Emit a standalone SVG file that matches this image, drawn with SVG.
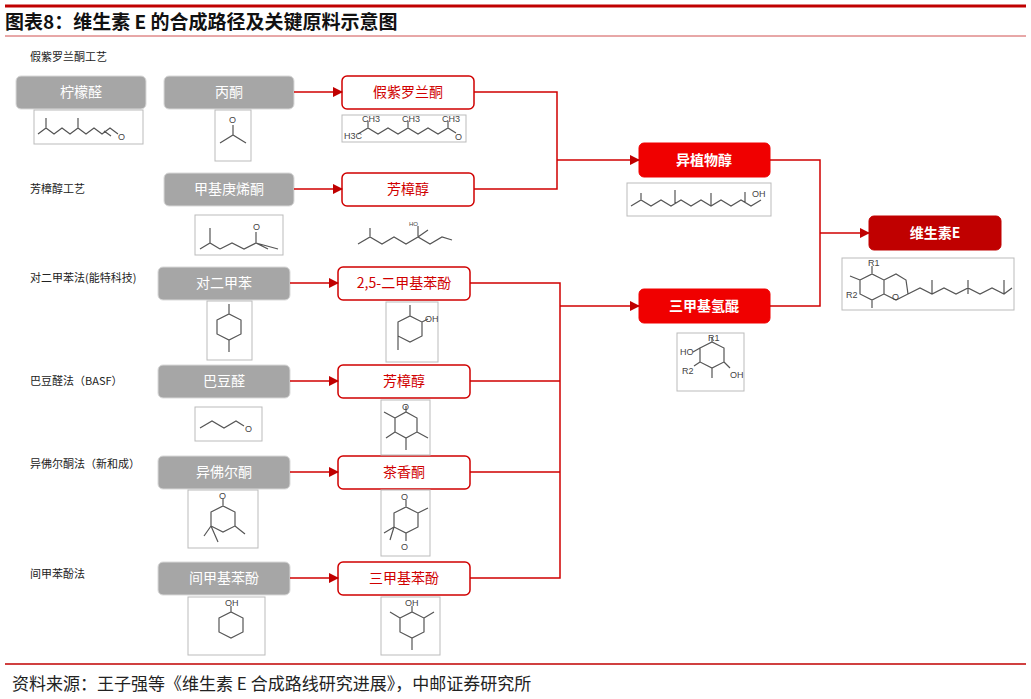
<svg xmlns="http://www.w3.org/2000/svg" width="1031" height="699" viewBox="0 0 1031 699">
<defs>
<marker id="ar" viewBox="0 0 10 10" refX="9" refY="5" markerWidth="7" markerHeight="7" orient="auto"><path d="M0,0 L10,5 L0,10 z" fill="#c00000"/></marker>
<style>
text{font-family:"Noto Sans CJK SC","Liberation Sans",sans-serif}
.g rect{fill:#a6a6a6;stroke:#d9d9d9;stroke-width:1}
.g text{fill:#fff;font-size:14px;text-anchor:middle}
.o rect{fill:#fff;stroke:#d00000;stroke-width:1.5}
.o text{fill:#d00000;font-size:14px;text-anchor:middle}
.f rect{fill:#f00000;stroke:#f00000}
.f text{fill:#fff;font-size:14px;font-weight:bold;text-anchor:middle}
.lab{font-size:11px;fill:#222}
.c path{fill:none;stroke:#d00000;stroke-width:1.5}
.m rect{fill:#fff;stroke:#bbb;stroke-width:1}
.m path{fill:none;stroke:#555;stroke-width:1.2}
.m text{font-size:9px;fill:#444;font-family:"Liberation Sans",sans-serif}
</style>
</defs>
<rect width="1031" height="699" fill="#fff"/>
<line x1="5" y1="6" x2="1026" y2="6" stroke="#c00000" stroke-width="3"/>
<text x="5" y="29" font-size="19" font-weight="bold" fill="#111">图表8：维生素 E 的合成路径及关键原料示意图</text>
<line x1="5" y1="36" x2="1026" y2="36" stroke="#d05050" stroke-width="1"/>

<text class="lab" x="30" y="61">假紫罗兰酮工艺</text>
<text class="lab" x="30" y="193">芳樟醇工艺</text>
<text class="lab" x="30" y="282">对二甲苯法(能特科技)</text>
<text class="lab" x="30" y="385">巴豆醛法（BASF）</text>
<text class="lab" x="30" y="468">异佛尔酮法（新和成）</text>
<text class="lab" x="30" y="578">间甲苯酚法</text>

<g id="n-citral" class="g"><rect x="16" y="76" width="130" height="33" rx="5"/><text x="81" y="97">柠檬醛</text></g>
<g id="n-acetone" class="g"><rect x="164" y="76" width="130" height="33" rx="5"/><text x="229" y="97">丙酮</text></g>
<g id="n-mho" class="g"><rect x="164" y="173" width="130" height="33" rx="5"/><text x="229" y="194">甲基庚烯酮</text></g>
<g id="n-px" class="g"><rect x="158" y="267" width="132" height="33" rx="5"/><text x="224" y="288">对二甲苯</text></g>
<g id="n-crot" class="g"><rect x="158" y="365" width="132" height="33" rx="5"/><text x="224" y="386">巴豆醛</text></g>
<g id="n-iso" class="g"><rect x="158" y="456" width="132" height="33" rx="5"/><text x="224" y="477">异佛尔酮</text></g>
<g id="n-mc" class="g"><rect x="158" y="562" width="132" height="33" rx="5"/><text x="224" y="583">间甲基苯酚</text></g>

<g id="n-pi" class="o"><rect x="342" y="76" width="132" height="33" rx="5"/><text x="408" y="97">假紫罗兰酮</text></g>
<g id="n-lin" class="o"><rect x="342" y="173" width="132" height="33" rx="5"/><text x="408" y="194">芳樟醇</text></g>
<g id="n-dmp" class="o"><rect x="338" y="267" width="132" height="33" rx="5"/><text x="404" y="288">2,5-二甲基苯酚</text></g>
<g id="n-lin2" class="o"><rect x="338" y="365" width="132" height="33" rx="5"/><text x="404" y="386">芳樟醇</text></g>
<g id="n-kip" class="o"><rect x="338" y="456" width="132" height="33" rx="5"/><text x="404" y="477">茶香酮</text></g>
<g id="n-tmp" class="o"><rect x="338" y="562" width="132" height="33" rx="5"/><text x="404" y="583">三甲基苯酚</text></g>

<g id="n-ip" class="f"><rect x="639" y="143" width="131" height="34" rx="5"/><text x="704" y="165">异植物醇</text></g>
<g id="n-tmhq" class="f"><rect x="639" y="289" width="131" height="34" rx="5"/><text x="704" y="311">三甲基氢醌</text></g>
<g id="n-ve" class="f"><rect x="869" y="216" width="132" height="34" rx="5" style="fill:#c00000;stroke:#c00000"/><text x="935" y="238">维生素E</text></g>

<g id="connectors" class="c">
<path d="M294,92 H342" marker-end="url(#ar)"/>
<path d="M294,189 H342" marker-end="url(#ar)"/>
<path d="M290,283 H338" marker-end="url(#ar)"/>
<path d="M290,381 H338" marker-end="url(#ar)"/>
<path d="M290,472 H338" marker-end="url(#ar)"/>
<path d="M290,578 H338" marker-end="url(#ar)"/>
<path d="M474,92 H557 V189 H474"/>
<path d="M557,160 H639" marker-end="url(#ar)"/>
<path d="M470,283 H560 V578 H470 M470,381 H560 M470,472 H560"/>
<path d="M560,306 H639" marker-end="url(#ar)"/>
<path d="M770,160 H820 V306 H770"/>
<path d="M820,233 H869" marker-end="url(#ar)"/>
</g>

<g class="m">
<rect x="34" y="110" width="109" height="34"/>
<path d="M38,134 L46,128 L54,134 L62,128 L70,134 L78,128 L86,134 L94,128 L102,134 L110,128 L118,134 M46,128 V118 M78,128 V118 M104,131 L111,136"/>
<text x="118" y="140">O</text>
<rect x="215" y="110" width="36" height="51"/>
<path d="M220,143 L233,135 L246,143 M233,135 V125"/><text x="229" y="123">O</text>
<rect x="342" y="115" width="124" height="27"/>
<path d="M358,134 L368,128 L378,134 L388,128 L398,134 L408,128 L418,134 L428,128 L438,134 L448,128 L456,133 M368,128 V121 M408,128 V121 M448,128 V121"/>
<text x="344" y="139">H3C</text><text x="362" y="122">CH3</text><text x="402" y="122">CH3</text><text x="442" y="122">CH3</text><text x="455" y="140">O</text>
<rect x="195" y="215" width="88" height="40"/>
<path d="M200,249 L210,243 L220,249 M210,243 V228 M220,249 L232,243 L244,249 L256,243 L268,249 M256,243 V232 M256,243 L278,249"/><text x="253" y="230">O</text>
<path class="x" d="M358,244 L370,237 L382,244 L394,237 L406,244 L418,237 L430,244 L442,237 L452,240 M370,237 V228 M418,237 V226 M418,237 L428,230"/><text x="409" y="226" style="font-size:6px">HO</text>
<rect x="627" y="183" width="144" height="33"/>
<path d="M631,206 L641,200 L651,206 L661,200 L671,206 L681,200 L691,206 L701,200 L711,206 L721,200 L731,206 L741,200 L751,206 L761,200 M641,200 V193 M675,203 V190 M711,206 V193 M745,202 V192"/><text x="752" y="197">OH</text>
<rect x="842" y="258" width="172" height="52"/>
<path d="M860,280 L872,274 L884,280 V294 L872,300 L860,294 Z M884,280 L896,274 L906,280 L908,294 L896,300 L884,294 M872,274 V266 M860,280 L850,276 M872,300 V308 M908,294 L920,288 L932,294 L944,288 L956,294 L968,288 L980,294 L992,288 L1004,294 L1012,288 M932,294 V280 M968,294 V280 M1004,294 V280"/>
<text x="868" y="266">R1</text><text x="846" y="298">R2</text><text x="892" y="300">O</text>
<rect x="677" y="333" width="67" height="58"/>
<path d="M700,348 L712,342 L724,348 V362 L712,368 L700,362 Z M712,342 V337 M700,348 L693,352 M700,362 L694,366 M712,368 V378 M724,362 L730,368"/>
<text x="680" y="355">HO</text><text x="708" y="341">R1</text><text x="682" y="374">R2</text><text x="730" y="378">OH</text>
<rect x="207" y="301" width="45" height="59"/>
<path d="M217,320 L229,314 L241,320 V334 L229,340 L217,334 Z M229,314 V304 M229,340 V352"/>
<rect x="386" y="302" width="52" height="60"/>
<path d="M398,322 L410,316 L422,322 V336 L410,342 L398,336 Z M410,316 V305 M422,322 L428,319 M398,336 V350"/><text x="425" y="322">OH</text>
<rect x="195" y="407" width="67" height="34"/>
<path d="M200,428 L212,421 L224,428 L236,421 L244,426"/><text x="245" y="432">O</text>
<rect x="381" y="400" width="49" height="55"/>
<path d="M395,418 L406,412 L417,418 V432 L406,438 L395,432 Z M406,412 V406 M395,432 L386,438 M395,418 L384,412 M406,438 V450 M417,432 L428,438"/><text x="402" y="410">O</text>
<rect x="188" y="490" width="70" height="58"/>
<path d="M211,512 L223,506 L235,512 V526 L223,532 L211,526 Z M223,506 V499 M211,526 L204,536 M211,526 L218,542 M235,526 L245,534"/><text x="219" y="499">O</text>
<rect x="381" y="490" width="49" height="66"/>
<path d="M394,513 L406,507 L418,513 V527 L406,533 L394,527 Z M406,507 V500 M406,533 V541 M394,527 L384,533 M394,527 L390,540 M418,513 L428,508"/><text x="401" y="500">O</text><text x="401" y="550">O</text>
<rect x="188" y="597" width="77" height="58"/>
<path d="M219,618 L231,612 L243,618 V632 L231,638 L219,632 Z M231,612 V606"/><text x="225" y="606">OH</text>
<rect x="381" y="597" width="59" height="58"/>
<path d="M400,618 L412,612 L424,618 V632 L412,638 L400,632 Z M412,612 V606 M400,618 L390,612 M424,618 L434,612 M412,638 V650"/><text x="405" y="606">OH</text>
</g>

<line x1="5" y1="664" x2="1026" y2="664" stroke="#c00000" stroke-width="1.5"/>
<text x="12" y="690" font-size="17" fill="#222">资料来源：王子强等《维生素 E 合成路线研究进展》，中邮证券研究所</text>
</svg>
